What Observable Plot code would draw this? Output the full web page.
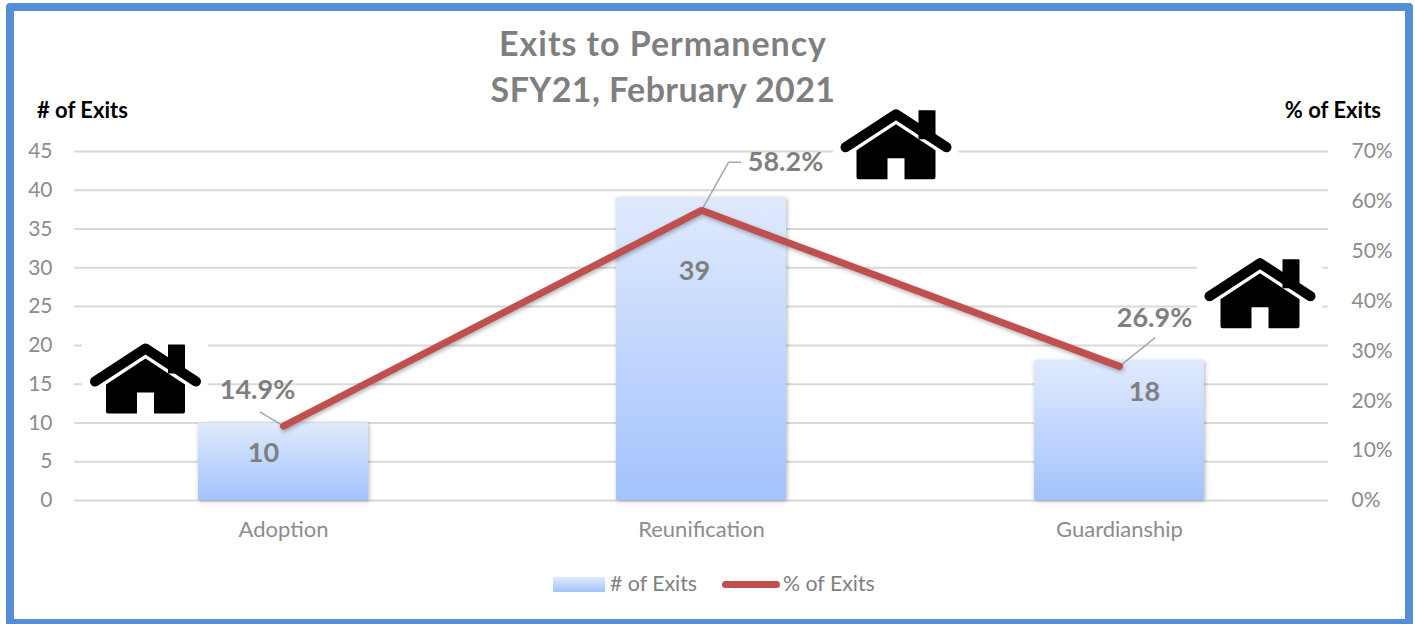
<!DOCTYPE html>
<html>
<head>
<meta charset="utf-8">
<script src="https://cdn.jsdelivr.net/npm/d3@7"></script>
<script src="https://cdn.jsdelivr.net/npm/@observablehq/plot@0.6"></script>
<style>
html,body{margin:0;padding:0;background:#fff;}
#frame{position:relative;width:1415px;height:624px;overflow:hidden;font-family:Lato,sans-serif;}
#border{position:absolute;left:6px;top:3px;width:1391px;height:608px;border:8px solid #558ed5;border-radius:4px;box-sizing:content-box;}
#chart{position:absolute;left:0;top:0;}
#chart g[aria-label="bar"]{filter:drop-shadow(1px 1px 2px rgba(0,0,0,.3));}
#chart g[aria-label="line"]{filter:drop-shadow(1px 2px 2px rgba(0,0,0,.3));}
#title{position:absolute;left:363px;top:20px;width:600px;text-align:center;font-weight:700;font-size:34px;letter-spacing:.95px;line-height:46px;color:#7f7f7f;}
#title span{letter-spacing:.4px;}
.hdr{position:absolute;top:98px;font-weight:700;font-size:22px;line-height:24px;color:#000;}
#legend{position:absolute;left:0;top:571px;width:1415px;height:24px;font-size:21.3px;line-height:24px;color:#7f7f7f;}
#legend span{position:absolute;top:0;}
#swatch{position:absolute;left:553px;top:6px;width:52px;height:15px;background:linear-gradient(#e0eafd,#a3c3fd);}
#lineKey{position:absolute;left:722px;top:10px;width:58px;height:7px;border-radius:4px;background:#c0504d;}
</style>
</head>
<body>
<div id="frame">
  <div id="chart"></div>
  <div id="border"></div>
  <div id="title">Exits to Permanency<br><span>SFY21, February 2021</span></div>
  <div class="hdr" style="left:37px"># of Exits</div>
  <div class="hdr" style="right:34px">% of Exits</div>
  <div id="legend">
    <div id="swatch"></div><span style="left:610px"># of Exits</span>
    <div id="lineKey"></div><span style="left:783px">% of Exits</span>
  </div>
</div>
<script>
const categories = ["Adoption", "Reunification", "Guardianship"];
const exitCounts = [10, 39, 18];
const exitPercents = [14.9, 58.2, 26.9];
const countTicks = [0, 5, 10, 15, 20, 25, 30, 35, 40, 45];
const percentTicks = [0, 10, 20, 30, 40, 50, 60, 70];
const countMax = 45;
const percentMax = 70;

const onCountScale = p => p * countMax / percentMax;
const rows = categories.map((c, i) => ({cat: c, n: exitCounts[i], pct: exitPercents[i], py: onCountScale(exitPercents[i])}));

const GREY = "#7f7f7f";
const AXIS = "#8c8c8c";
const houseSvg = "<svg xmlns='http://www.w3.org/2000/svg' width='126' height='84' viewBox='-8 -6 126 84'>" +
  "<rect x='-8' y='-6' width='126' height='84' fill='white'/>" +
  "<path d='M78 1h16a1 1 0 0 1 1 1v28h-17z' fill='black'/>" +
  "<path d='M5 38L55.5 5L106 38' fill='none' stroke='black' stroke-width='10' stroke-linecap='round' stroke-linejoin='round'/>" +
  "<path d='M16 41L55.5 15L95 41V68a2 2 0 0 1-2 2H64V49H47V70H18a2 2 0 0 1-2-2Z' fill='black'/>" +
  "</svg>";
const houseSrc = "data:image/svg+xml;utf8," + encodeURIComponent(houseSvg);
const leaderShape = {draw(ctx, l) { ctx.moveTo(0, 0); ctx.lineTo(0, -l); }};
const one = i => [rows[i]];
const barText = (i, dx, dy) => Plot.text(one(i), {x: "cat", y: "n", text: d => String(d.n), dx, dy, fontSize: 27, fontWeight: 700, fill: GREY});
const pctText = (i, dx, dy) => Plot.text(one(i), {x: "cat", y: "py", text: d => d.pct.toFixed(1) + "%", dx, dy, fontSize: 27, fontWeight: 700, fill: GREY});
const leader = (i, rotate, length, dx = 0, dy = 0) => Plot.vector(one(i), {x: "cat", y: "py", rotate, length, dx, dy, anchor: "start", shape: leaderShape, stroke: "#a6a6a6", strokeWidth: 1.5});
const house = (i, y, dx) => Plot.image([{cat: categories[i], y}], {x: "cat", y: "y", dx, width: 126, height: 84, src: () => houseSrc});

const chart = Plot.plot({
  width: 1415, height: 624,
  marginTop: 151, marginBottom: 124, marginLeft: 74, marginRight: 87,
  style: {fontFamily: "Lato, sans-serif", background: "transparent", overflow: "visible"},
  x: {domain: categories, paddingInner: 0.593, paddingOuter: 0.2965, label: null},
  y: {domain: [0, countMax], label: null},
  marks: [
    Plot.gridY(countTicks, {stroke: "#d9d9d9", strokeWidth: 2, strokeOpacity: 1}),
    Plot.axisY({ticks: countTicks, anchor: "left", tickSize: 0, tickPadding: 22, fontSize: 21, color: AXIS, label: null}),
    Plot.axisY({ticks: percentTicks.map(onCountScale), tickFormat: v => Math.round(v * percentMax / countMax) + "%", anchor: "right", tickSize: 0, tickPadding: 23, fontSize: 21, color: AXIS, label: null, textAnchor: "start"}),
    Plot.axisX({domain: categories, tickSize: 0, tickPadding: 21, fontSize: 22, color: AXIS, label: null}),
    Plot.barY(rows, {x: "cat", y: "n", fill: "url(#barGrad)"}),
    house(0, 15.6, -138.5),
    house(1, 45.8, 194),
    house(2, 26.6, 140),
    leader(0, -58.7, 27),
    leader(1, 29.4, 55),
    leader(1, 90, 12, 27, -48),
    leader(2, 51, 45),
    Plot.line(rows, {x: "cat", y: "py", stroke: "#c0504d", strokeWidth: 7, strokeLinecap: "round", strokeLinejoin: "miter"}),
    barText(0, -20, 30),
    barText(1, -7, 73),
    barText(2, 25, 31),
    pctText(0, -26, -36),
    pctText(1, 84, -48),
    pctText(2, 35, -48)
  ]
});
const defs = d3.create("svg:defs");
const grad = defs.append("linearGradient").attr("id", "barGrad").attr("x1", 0).attr("x2", 0).attr("y1", 0).attr("y2", 1);
grad.append("stop").attr("offset", "0%").attr("stop-color", "#e0eafd");
grad.append("stop").attr("offset", "100%").attr("stop-color", "#a3c3fd");
chart.prepend(defs.node());
document.getElementById("chart").appendChild(chart);
</script>
</body>
</html>
